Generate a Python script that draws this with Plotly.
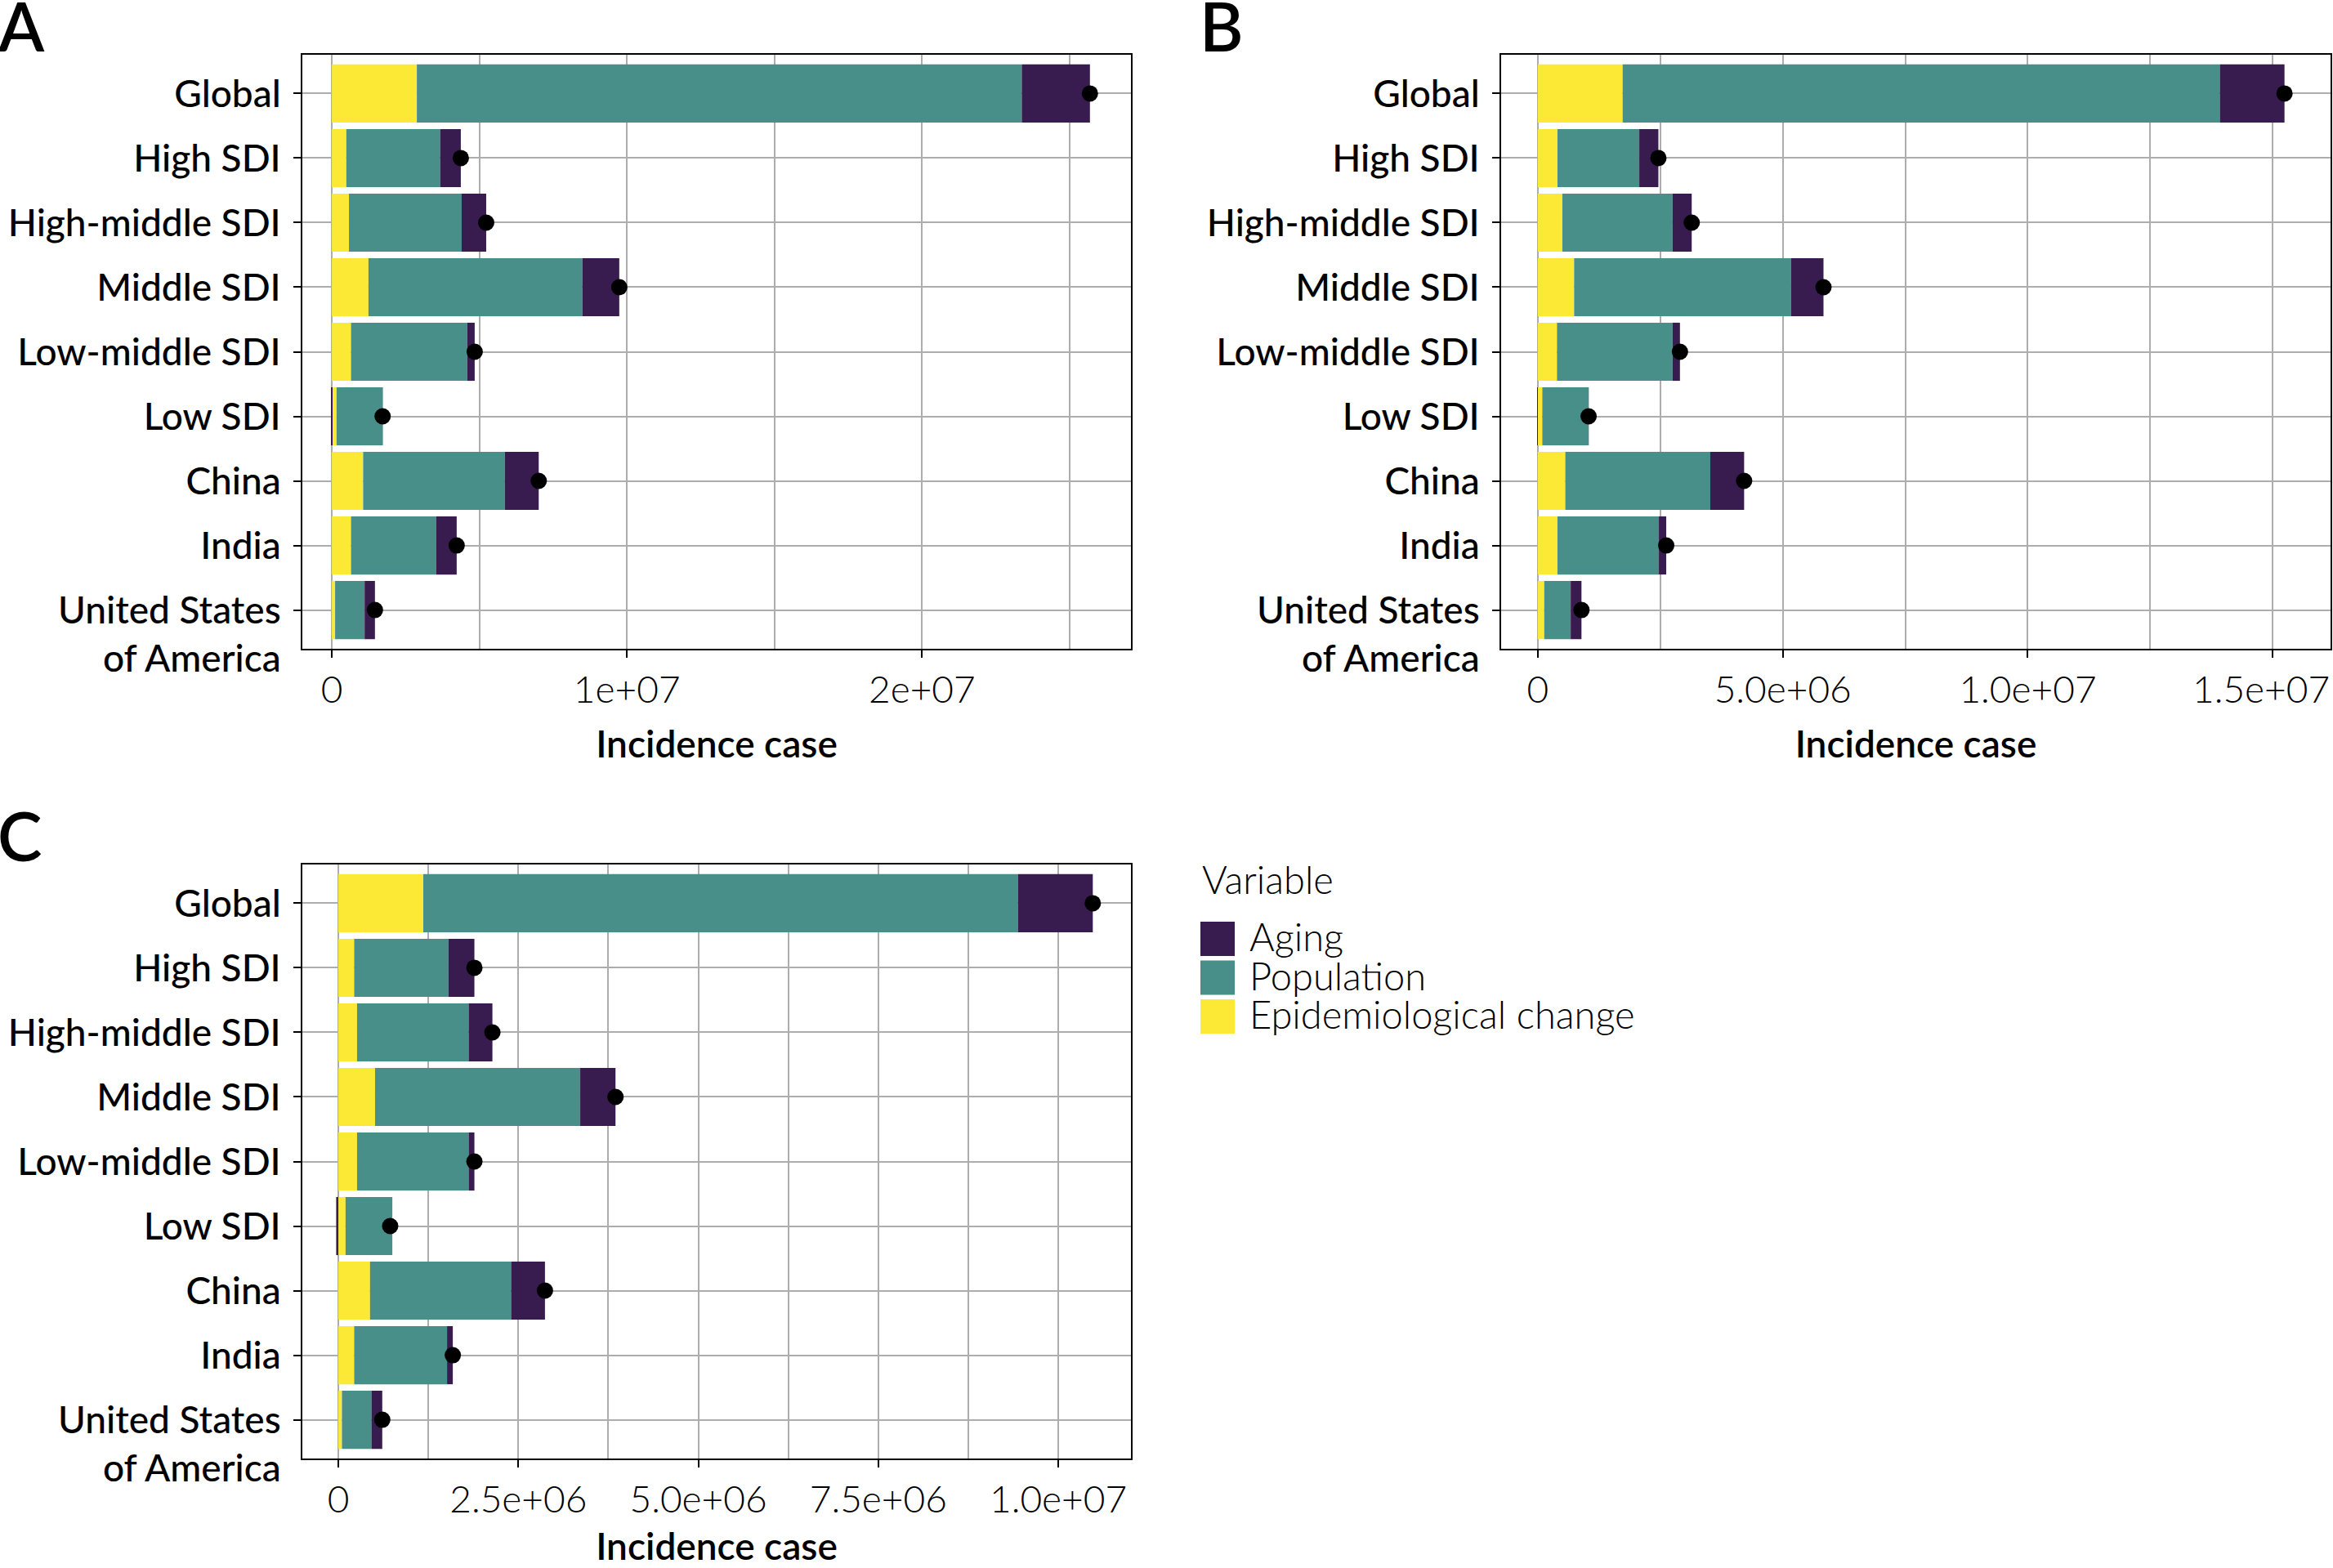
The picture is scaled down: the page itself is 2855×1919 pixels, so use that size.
import plotly.graph_objects as go

W, H = 2855, 1919

categories = ["Global", "High SDI", "High-middle SDI", "Middle SDI", "Low-middle SDI",
              "Low SDI", "China", "India", "United States of America"]
# the last label is laid out as in the reference: first line level with the tick
category_labels = ["Global", "High SDI", "High-middle SDI", "Middle SDI", "Low-middle SDI",
                   "Low SDI", "China", "India", "\u00a0<br>United States<br>of America"]

# decomposition values (cases)
a_epi = [2.88e6, 0.49e6, 0.58e6, 1.24e6, 0.65e6, 0.16e6, 1.06e6, 0.65e6, 0.11e6]
a_pop = [20.50e6, 3.18e6, 3.82e6, 7.25e6, 3.94e6, 1.57e6, 4.80e6, 2.89e6, 1.00e6]
a_aging = [2.31e6, 0.70e6, 0.83e6, 1.25e6, 0.25e6, -0.01e6, 1.15e6, 0.69e6, 0.35e6]

b_epi = [1.73e6, 0.40e6, 0.50e6, 0.74e6, 0.39e6, 0.09e6, 0.56e6, 0.40e6, 0.13e6]
b_pop = [12.19e6, 1.67e6, 2.25e6, 4.43e6, 2.36e6, 0.95e6, 2.96e6, 2.07e6, 0.54e6]
b_aging = [1.32e6, 0.39e6, 0.39e6, 0.66e6, 0.15e6, -0.005e6, 0.69e6, 0.15e6, 0.22e6]

c_epi = [1.18e6, 0.22e6, 0.26e6, 0.51e6, 0.26e6, 0.10e6, 0.44e6, 0.22e6, 0.05e6]
c_pop = [8.26e6, 1.31e6, 1.55e6, 2.85e6, 1.55e6, 0.65e6, 1.96e6, 1.29e6, 0.41e6]
c_aging = [1.04e6, 0.36e6, 0.33e6, 0.49e6, 0.08e6, -0.03e6, 0.47e6, 0.08e6, 0.15e6]

a_ticks = [0, 1e7, 2e7]
a_ticktext = ["0", "1e+07", "2e+07"]
b_ticks = [0, 5e6, 1e7, 1.5e7]
b_ticktext = ["0", "5.0e+06", "1.0e+07", "1.5e+07"]
c_ticks = [0, 2.5e6, 5e6, 7.5e6, 1e7]
c_ticktext = ["0", "2.5e+06", "5.0e+06", "7.5e+06", "1.0e+07"]

variables = ["Aging", "Population", "Epidemiological change"]
colors = {"Aging": "#381B4F", "Population": "#488E89", "Epidemiological change": "#FBE935"}

FONT = "Lato"
GRID = "#ADADAD"
TICKFONT = dict(family=FONT, size=46, color="black", weight=300)


def px(x):
    return x / W


def py(y):
    return 1 - y / H


fig = go.Figure()

panels = [
    ("", a_epi, a_pop, a_aging),
    ("2", b_epi, b_pop, b_aging),
    ("3", c_epi, c_pop, c_aging),
]
for suffix, epi, pop, aging in panels:
    xa, ya = "x" + suffix, "y" + suffix
    for name, vals in [("Epidemiological change", epi), ("Population", pop), ("Aging", aging)]:
        fig.add_trace(go.Bar(
            x=vals, y=categories, orientation="h", name=name,
            marker=dict(color=colors[name], line=dict(width=0)),
            xaxis=xa, yaxis=ya, showlegend=False,
        ))
    totals = [e + p + g for e, p, g in zip(epi, pop, aging)]
    fig.add_trace(go.Scatter(
        x=totals, y=categories, mode="markers",
        marker=dict(color="black", size=20),
        xaxis=xa, yaxis=ya, showlegend=False,
    ))


def xaxis_style(domain, rng, tickvals, ticktext, minor_dtick, anchor):
    return dict(
        domain=domain, range=rng, anchor=anchor, automargin=False,
        tickmode="array", tickvals=tickvals, ticktext=ticktext,
        showgrid=True, gridcolor=GRID, gridwidth=2.2, zeroline=False,
        minor=dict(tickmode="linear", tick0=0, dtick=minor_dtick,
                   showgrid=True, gridcolor=GRID, gridwidth=2.2, ticks=""),
        showline=True, linecolor="black", linewidth=2.2, mirror=True,
        ticks="outside", ticklen=9, tickwidth=2, tickcolor="black",
        tickfont=TICKFONT,
        title=dict(text="Incidence case", standoff=26,
                   font=dict(family=FONT, size=46, color="black", weight=600)),
    )


def yaxis_style(domain, anchor):
    return dict(
        domain=domain, anchor=anchor, automargin=False, type="category",
        categoryorder="array", categoryarray=categories, range=[8.6, -0.6],
        tickmode="array", tickvals=categories, ticktext=category_labels,
        showgrid=True, gridcolor=GRID, gridwidth=2.2, zeroline=False,
        showline=True, linecolor="black", linewidth=2.2, mirror=True,
        ticks="outside", ticklen=9, tickwidth=2, tickcolor="black",
        ticklabelstandoff=6,
        tickfont=dict(family=FONT, size=46, color="black", weight=500),
    )


# the last tick label of panel B sits against the page edge, nudged left as in
# the reference; it is drawn as an annotation so it is not hidden at the edge
b_axis = xaxis_style([px(1837), px(2852)], [-0.75e6, 16.18e6], b_ticks,
                     b_ticktext[:-1] + [""], 2.5e6, "y2")

fig.update_layout(
    width=W, height=H,
    margin=dict(l=0, r=0, t=0, b=0),
    paper_bgcolor="white", plot_bgcolor="white",
    barmode="relative", bargap=0.1,
    font=dict(family=FONT, color="black"),
    xaxis=xaxis_style([px(370), px(1384)], [-1.0e6, 27.08e6], a_ticks, a_ticktext, 5e6, "y"),
    yaxis=yaxis_style([py(794), py(67)], "x"),
    xaxis2=b_axis,
    yaxis2=yaxis_style([py(794), py(67)], "x2"),
    xaxis3=xaxis_style([px(370), px(1384)], [-0.5e6, 11.01e6], c_ticks, c_ticktext, 1.25e6, "y3"),
    yaxis3=yaxis_style([py(1785), py(1058)], "x3"),
)

fig.add_annotation(
    text=b_ticktext[-1], x=b_ticks[-1], xref="x2", y=py(843), yref="paper",
    xanchor="center", yanchor="middle", xshift=-14, showarrow=False,
    font=TICKFONT,
)

# panel letters
for letter, lx, ly in [("A", 0, 31), ("B", 1471, 31), ("C", 0, 1022)]:
    fig.add_annotation(
        text=letter, x=px(lx), y=py(ly), xref="paper", yref="paper",
        xanchor="left", yanchor="middle", showarrow=False, xshift=-5,
        font=dict(family=FONT, size=82, color="black", weight=600),
    )

# legend drawn by hand so the keys can be as large as in the reference
fig.add_annotation(
    text="Variable", x=px(1469), y=py(1076), xref="paper", yref="paper",
    xanchor="left", yanchor="middle", showarrow=False,
    font=dict(family=FONT, size=47, color="black", weight=300),
)
key_top = 1128
for i, name in enumerate(variables):
    top = key_top + i * 47.5
    fig.add_shape(
        type="rect", xref="paper", yref="paper",
        x0=px(1469), x1=px(1511), y0=py(top), y1=py(top + 42),
        fillcolor=colors[name], line=dict(width=0),
    )
    fig.add_annotation(
        text=name, x=px(1527), y=py(top + 18), xref="paper", yref="paper",
        xanchor="left", yanchor="middle", showarrow=False,
        font=dict(family=FONT, size=47, color="black", weight=300),
    )

# drop the browser's default body margin so the figure sits at the page corner
fig.write_html("out.html", config={"displayModeBar": False},
               post_script="document.body.style.margin='0';")
